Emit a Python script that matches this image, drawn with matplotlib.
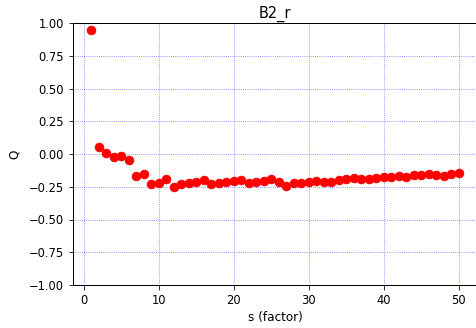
import matplotlib
matplotlib.use("Agg")
import matplotlib.pyplot as plt
import numpy as np

s_factor = list(range(1, 51))
q_values = [0.947, 0.056, 0.005, -0.020, -0.018, -0.048, -0.165, -0.155, -0.232, -0.224,
            -0.193, -0.252, -0.229, -0.221, -0.214, -0.196, -0.232, -0.224, -0.216, -0.204,
            -0.196, -0.224, -0.214, -0.206, -0.193, -0.211, -0.242, -0.224, -0.219, -0.211,
            -0.204, -0.211, -0.211, -0.198, -0.191, -0.183, -0.193, -0.191, -0.181, -0.173,
            -0.178, -0.168, -0.173, -0.163, -0.163, -0.153, -0.158, -0.165, -0.153, -0.145]
y_ticks = [-1.00, -0.75, -0.50, -0.25, 0.00, 0.25, 0.50, 0.75, 1.00]
x_ticks = [0, 10, 20, 30, 40, 50]

dpi = 72
fig = plt.figure(figsize=(476 / dpi, 328 / dpi), dpi=dpi)
ax = fig.add_axes([73 / 476, 1 - 285 / 328, (477 - 73) / 476, (285 - 23) / 328])
ax.plot(s_factor, q_values, 'o', color='red', markersize=8.5)
ax.set_ylim(-1, 1)
ax.set_yticks(y_ticks)
ax.set_xticks(x_ticks)
ax.grid(True, color='blue', linestyle=':', linewidth=0.8, alpha=0.6)
ax.set_title("B2_r", fontsize=14.5, pad=5)
ax.set_xlabel("s (factor)", fontsize=12, labelpad=4)
ax.set_ylabel("Q", fontsize=12, labelpad=8)
ax.tick_params(labelsize=11.5, length=4.5, pad=4.5)
for sp in ax.spines.values():
    sp.set_linewidth(1.0)
fig.savefig("out.png", dpi=dpi)
